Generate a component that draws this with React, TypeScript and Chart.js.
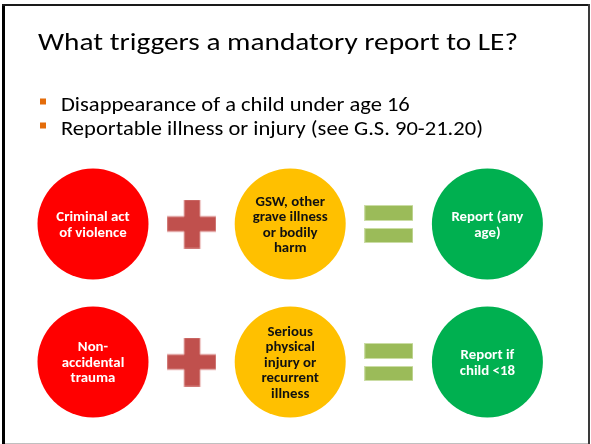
import React, { useEffect, useRef } from "react";
import { Chart, registerables } from "chart.js";

Chart.register(...registerables);

// ---------- data ----------
const titleText = "What triggers a mandatory report to LE?";
const bulletItems = [
  "Disappearance of a child under age 16",
  "Reportable illness or injury (see G.S. 90-21.20)",
];
const columnKinds = ["cause", "plus", "condition", "equals", "result"];
const rowIndex = [0, 1];
const causeLabels = [
  ["Criminal act", "of violence"],
  ["Non-", "accidental", "trauma"],
];
const conditionLabels = [
  ["GSW, other", "grave illness", "or bodily", "harm"],
  ["Serious", "physical", "injury or", "recurrent", "illness"],
];
const resultLabels = [
  ["Report (any", "age)"],
  ["Report if", "child <18"],
];

// ---------- layout / style ----------
const W = 591;
const H = 444;
const COL_X0 = 93;
const COL_STEP = 98.6;
const ROW_Y0 = 224;
const ROW_STEP = 138;
const FONT = "Carlito, Lato, 'Open Sans', sans-serif";

function makePlus(): HTMLCanvasElement {
  const c = document.createElement("canvas");
  c.width = 49;
  c.height = 49;
  const g = c.getContext("2d")!;
  const a = 17, b = 33, e = 49;
  g.beginPath();
  g.moveTo(a, 0); g.lineTo(b, 0); g.lineTo(b, a); g.lineTo(e, a); g.lineTo(e, b - 1);
  g.lineTo(b, b - 1); g.lineTo(b, e); g.lineTo(a, e); g.lineTo(a, b - 1); g.lineTo(0, b - 1);
  g.lineTo(0, a); g.lineTo(a, a); g.closePath();
  g.fillStyle = "#C0504D";
  g.fill();
  g.strokeStyle = "rgba(230,170,168,0.9)";
  g.lineWidth = 1;
  g.stroke();
  return c;
}

function makeEquals(): HTMLCanvasElement {
  const c = document.createElement("canvas");
  c.width = 49;
  c.height = 38;
  const g = c.getContext("2d")!;
  g.fillStyle = "#9BBB59";
  g.strokeStyle = "rgba(205,222,170,0.95)";
  g.lineWidth = 1;
  g.fillRect(0, 0, 49, 16);
  g.strokeRect(0.5, 0.5, 48, 15);
  g.fillRect(0, 23, 49, 15);
  g.strokeRect(0.5, 23.5, 48, 14);
  return c;
}

function drawScaled(ctx: CanvasRenderingContext2D, text: string, x: number, y: number, sx: number, align: CanvasTextAlign) {
  ctx.save();
  ctx.translate(x, y);
  ctx.scale(sx, 1);
  ctx.textAlign = align;
  ctx.textBaseline = "alphabetic";
  ctx.fillText(text, 0, 0);
  ctx.restore();
}

const slidePlugin = {
  id: "slide",
  beforeDraw(chart: any) {
    const ctx = chart.ctx as CanvasRenderingContext2D;
    ctx.save();
    ctx.fillStyle = "#ffffff";
    ctx.fillRect(0, 0, W, H);
    ctx.restore();
  },
  afterDatasetsDraw(chart: any) {
    const ctx = chart.ctx as CanvasRenderingContext2D;
    const labelSets: Record<number, { labels: string[][]; color: string }> = {
      0: { labels: causeLabels, color: "#ffffff" },
      2: { labels: conditionLabels, color: "#111111" },
      4: { labels: resultLabels, color: "#ffffff" },
    };
    ctx.save();
    ctx.font = `bold 13.3px ${FONT}`;
    const sx = 75 / ctx.measureText("grave illness").width;
    const lineH = 15.5;
    const capH = 9.5;
    Object.keys(labelSets).forEach((k) => {
      const di = Number(k);
      const set = labelSets[di];
      const meta = chart.getDatasetMeta(di);
      meta.data.forEach((pt: any, j: number) => {
        const lines = set.labels[j];
        ctx.fillStyle = set.color;
        lines.forEach((ln, i) => {
          const mid = pt.y + (i - (lines.length - 1) / 2) * lineH;
          drawScaled(ctx, ln, pt.x, mid + capH / 2, sx, "center");
        });
      });
    });
    ctx.restore();
  },
  afterDraw(chart: any) {
    const ctx = chart.ctx as CanvasRenderingContext2D;
    ctx.save();
    // title
    ctx.fillStyle = "#000000";
    ctx.font = `25px ${FONT}`;
    const tsx = 480 / ctx.measureText(titleText).width;
    drawScaled(ctx, titleText, 38, 50, tsx, "left");
    // bullets
    ctx.font = `21px ${FONT}`;
    const bsx = 422 / ctx.measureText(bulletItems[1]).width;
    const baselines = [111, 135];
    bulletItems.forEach((b, i) => {
      ctx.fillStyle = "#E46C0A";
      ctx.fillRect(40, baselines[i] - 12.5, 6, 6);
      ctx.fillStyle = "#000000";
      drawScaled(ctx, b, 61, baselines[i], bsx, "left");
    });
    // slide frame
    ctx.fillStyle = "#000000";
    ctx.fillRect(2, 4, 3, H - 4);
    ctx.fillStyle = "#1a1a1a";
    ctx.fillRect(2, 4, 588, 2);
    ctx.fillStyle = "#3a3a3a";
    ctx.fillRect(588, 4, 2, H - 4);
    ctx.fillStyle = "#c0c0c0";
    ctx.fillRect(5, 443, 583, 1);
    ctx.restore();
  },
};

export default function App() {
  const ref = useRef<HTMLCanvasElement | null>(null);
  useEffect(() => {
    document.body.style.margin = "0";
    const canvas = ref.current!;
    const plus = makePlus();
    const equals = makeEquals();
    const colors: Record<string, any> = {
      cause: "#FF0000",
      condition: "#FFC000",
      result: "#00B050",
    };
    const datasets = columnKinds.map((kind, ci) => {
      const pts = rowIndex.map((r) => ({ x: ci, y: r }));
      if (kind === "plus" || kind === "equals") {
        return {
          label: kind,
          data: pts,
          pointStyle: kind === "plus" ? plus : equals,
          pointRadius: 25,
          showLine: false,
          clip: false,
        };
      }
      return {
        label: kind,
        data: pts,
        pointStyle: "circle",
        pointRadius: 55.5,
        backgroundColor: colors[kind],
        borderColor: colors[kind],
        borderWidth: 0,
        showLine: false,
        clip: false,
      };
    });
    const chart = new Chart(canvas, {
      type: "scatter",
      data: { datasets: datasets as any },
      options: {
        animation: false,
        responsive: false,
        devicePixelRatio: 1,
        layout: { padding: 0, autoPadding: false },
        events: [],
        plugins: {
          legend: { display: false },
          tooltip: { enabled: false },
          title: { display: false },
        },
        scales: {
          x: {
            type: "linear",
            display: false,
            min: -COL_X0 / COL_STEP,
            max: (W - COL_X0) / COL_STEP,
          },
          y: {
            type: "linear",
            display: false,
            reverse: true,
            min: -ROW_Y0 / ROW_STEP,
            max: (H - ROW_Y0) / ROW_STEP,
          },
        },
      },
      plugins: [slidePlugin],
    });
    return () => chart.destroy();
  }, []);
  return (
    <div style={{ position: "absolute", left: 0, top: 0 }}>
      <canvas ref={ref} width={W} height={H} style={{ display: "block", width: W, height: H }} />
    </div>
  );
}
